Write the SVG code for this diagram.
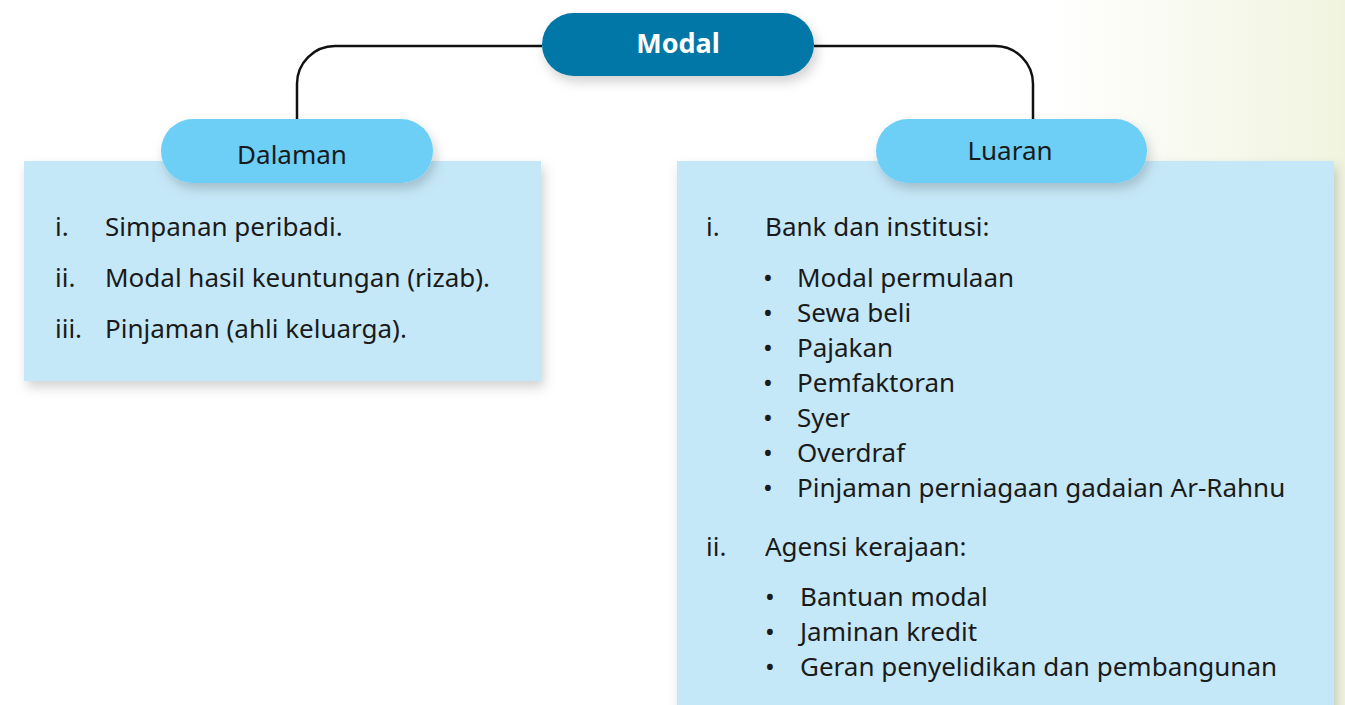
<svg xmlns="http://www.w3.org/2000/svg" width="1345" height="705" viewBox="0 0 1345 705">
<defs>
<linearGradient id="bg" x1="0" y1="0" x2="1" y2="0">
<stop offset="0" stop-color="#ffffff"/>
<stop offset="0.78" stop-color="#ffffff"/>
<stop offset="1" stop-color="#f0f4df"/>
</linearGradient>
<filter id="sh" x="-10%" y="-20%" width="125%" height="150%">
<feDropShadow dx="3" dy="6" stdDeviation="6" flood-color="#000" flood-opacity="0.18"/>
</filter>
</defs>
<style>
.t{font-family:"Noto Sans","Open Sans",sans-serif;font-size:26px;fill:#1a1a1a}
.hd{font-family:"Noto Sans","Open Sans",sans-serif;font-size:26px;fill:#1a1a1a;text-anchor:middle}
.box{fill:#c5e8f8}
.pill{fill:#6dcff6}
.conn{fill:none;stroke:#111;stroke-width:2.5}
</style>
<rect x="0" y="0" width="1345" height="705" fill="url(#bg)"/>
<g id="connectors">
<path class="conn" d="M542 46 H335 A38 38 0 0 0 297 84 V122"/>
<path class="conn" d="M814 46 H995 A38 38 0 0 1 1033 84 V122"/>
</g>
<g id="dalaman-box">
<rect class="box" x="24" y="161" width="517" height="220" filter="url(#sh)"/>
<text class="t" x="55" y="236">i.</text><text class="t" x="105" y="236">Simpanan peribadi.</text>
<text class="t" x="55" y="287">ii.</text><text class="t" x="105" y="287">Modal hasil keuntungan (rizab).</text>
<text class="t" x="55" y="338">iii.</text><text class="t" x="105" y="338">Pinjaman (ahli keluarga).</text>
</g>
<g id="luaran-box">
<rect class="box" x="677" y="161" width="657" height="560" filter="url(#sh)"/>
<text class="t" x="706" y="236">i.</text><text class="t" x="765" y="236">Bank dan institusi:</text>
<g class="t">
<text x="763" y="287">•</text><text x="797" y="287">Modal permulaan</text>
<text x="763" y="322">•</text><text x="797" y="322">Sewa beli</text>
<text x="763" y="357">•</text><text x="797" y="357">Pajakan</text>
<text x="763" y="392">•</text><text x="797" y="392">Pemfaktoran</text>
<text x="763" y="427">•</text><text x="797" y="427">Syer</text>
<text x="763" y="462">•</text><text x="797" y="462">Overdraf</text>
<text x="763" y="497">•</text><text x="797" y="497">Pinjaman perniagaan gadaian Ar-Rahnu</text>
</g>
<text class="t" x="706" y="556">ii.</text><text class="t" x="765" y="556">Agensi kerajaan:</text>
<g class="t">
<text x="765" y="606">•</text><text x="800" y="606">Bantuan modal</text>
<text x="765" y="641">•</text><text x="800" y="641">Jaminan kredit</text>
<text x="765" y="676">•</text><text x="800" y="676">Geran penyelidikan dan pembangunan</text>
</g>
</g>
<g id="modal">
<rect x="542" y="13" width="272" height="63" rx="31.5" fill="#0077a6" filter="url(#sh)"/>
<text x="678" y="53" font-family="'Noto Sans','Open Sans',sans-serif" font-size="27" font-weight="bold" fill="#ffffff" text-anchor="middle">Modal</text>
</g>
<g id="dalaman">
<rect class="pill" x="161" y="119" width="272" height="64" rx="32" filter="url(#sh)"/>
<text class="hd" x="292" y="164">Dalaman</text>
</g>
<g id="luaran">
<rect class="pill" x="876" y="119" width="271" height="64" rx="32" filter="url(#sh)"/>
<text class="hd" x="1010" y="160">Luaran</text>
</g>
</svg>
